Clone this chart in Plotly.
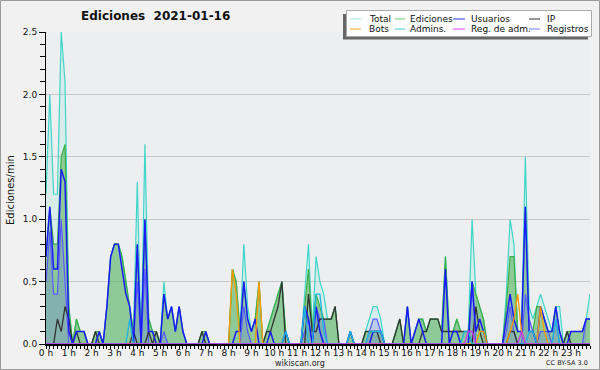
import plotly.graph_objects as go

# 10-minute slots, 144 per day (values in edits/min)
hour_labels = [f"{h} h" for h in range(24)]

total = [
 1.2, 2.0, 1.2, 1.2, 2.5, 2.1,   0.3, 0, 0.2, 0.1, 0.1, 0,
 0, 0.1, 0.1, 0, 0.3, 0.7,       0.8, 0.8, 0.7, 0.5, 0.3, 0.1,
 1.3, 0, 1.6, 0.2, 0.1, 0.1,     0, 0.5, 0.2, 0.3, 0.1, 0.3,
 0.1, 0, 0, 0, 0, 0.1,           0.1, 0, 0, 0, 0, 0,
 0, 0.6, 0.5, 0.1, 0.8, 0.3,     0.1, 0.2, 0.5, 0, 0.1, 0.2,
 0.3, 0.4, 0.5, 0.1, 0, 0,       0, 0, 0.4, 0.8, 0.1, 0.7,
 0.5, 0.4, 0.2, 0.2, 0.3, 0,     0, 0, 0.1, 0, 0, 0,
 0.1, 0.2, 0.3, 0.3, 0.2, 0,     0, 0, 0.1, 0.2, 0, 0.3,
 0, 0.1, 0.2, 0.2, 0.1, 0.2,     0.2, 0.2, 0.1, 0.7, 0.1, 0.1,
 0.2, 0.1, 0.1, 0.1, 1.0, 0.4,   0.3, 0.2, 0, 0, 0, 0,
 0, 0.4, 1.0, 0.8, 0.1, 0.1,     1.5, 0.3, 0.2, 0.3, 0.4, 0.3,
 0.2, 0.1, 0.3, 0.3, 0, 0.1,     0.1, 0.1, 0.1, 0.1, 0.2, 0.4,
]
ediciones = [
 0.7, 1.1, 0.8, 0.8, 1.5, 1.6,   0.3, 0, 0.2, 0.1, 0.1, 0,
 0, 0.1, 0.1, 0, 0.3, 0.7,       0.8, 0.8, 0.7, 0.5, 0.3, 0.1,
 0.8, 0, 1.0, 0.2, 0.1, 0.1,     0, 0.4, 0.2, 0.3, 0.1, 0.3,
 0.1, 0, 0, 0, 0, 0.1,           0.1, 0, 0, 0, 0, 0,
 0, 0.6, 0.5, 0.1, 0.5, 0.2,     0.1, 0.2, 0.5, 0, 0.1, 0.2,
 0.3, 0.4, 0.5, 0.1, 0, 0,       0, 0, 0.3, 0.6, 0.1, 0.4,
 0.3, 0.2, 0.2, 0.2, 0.3, 0,     0, 0, 0.1, 0, 0, 0,
 0.1, 0.1, 0.1, 0.1, 0.1, 0,     0, 0, 0.1, 0.2, 0, 0.3,
 0, 0.1, 0.2, 0.2, 0.1, 0.2,     0.2, 0.2, 0.1, 0.7, 0.1, 0.1,
 0.2, 0.1, 0.1, 0.1, 0.5, 0.4,   0.3, 0.2, 0, 0, 0, 0,
 0, 0.3, 0.7, 0.7, 0.1, 0.1,     1.1, 0.1, 0.1, 0.3, 0.3, 0.2,
 0.1, 0.1, 0.3, 0.1, 0, 0.1,     0.1, 0.1, 0.1, 0.1, 0.2, 0.2,
]
usuarios = [
 0.7, 1.1, 0.6, 0.6, 1.4, 1.3,   0.1, 0, 0.1, 0.1, 0.1, 0,
 0, 0, 0.1, 0, 0.3, 0.7,         0.8, 0.8, 0.6, 0.4, 0.3, 0,
 0.8, 0, 1.0, 0.1, 0.1, 0,       0, 0.4, 0.2, 0.3, 0.1, 0.3,
 0.1, 0, 0, 0, 0, 0,             0.1, 0, 0, 0, 0, 0,
 0, 0, 0.1, 0.1, 0.5, 0.2,       0.1, 0.2, 0, 0, 0, 0.1,
 0, 0, 0, 0.1, 0, 0,             0, 0, 0.3, 0.2, 0, 0.3,
 0.1, 0, 0, 0, 0, 0,             0, 0, 0.1, 0, 0, 0,
 0, 0, 0.1, 0.1, 0.1, 0,         0, 0, 0, 0, 0, 0.3,
 0, 0.1, 0.2, 0.1, 0, 0,         0, 0, 0, 0.6, 0, 0.1,
 0.1, 0, 0, 0, 0.5, 0.1,         0.2, 0.1, 0, 0, 0, 0,
 0, 0.2, 0.4, 0.2, 0.1, 0.1,     1.1, 0.1, 0.1, 0, 0.3, 0.2,
 0.1, 0.1, 0.3, 0.1, 0, 0,       0.1, 0.1, 0.1, 0.1, 0.2, 0.2,
]
ip = [
 0, 0, 0, 0.2, 0.1, 0.3,         0.2, 0, 0.1, 0, 0, 0,
 0, 0.1, 0, 0, 0, 0,             0, 0, 0, 0, 0, 0.1,
 0, 0, 0, 0.1, 0, 0.1,           0, 0, 0, 0, 0, 0,
 0, 0, 0, 0, 0, 0.1,             0, 0, 0, 0, 0, 0,
 0, 0, 0, 0, 0, 0,               0, 0, 0, 0, 0.1, 0.1,
 0.2, 0.3, 0.5, 0, 0, 0,         0, 0, 0, 0.4, 0.1, 0.1,
 0.2, 0.2, 0.2, 0.2, 0.3, 0,     0, 0, 0, 0, 0, 0,
 0.1, 0.1, 0.1, 0.1, 0, 0,       0, 0, 0.1, 0.2, 0, 0,
 0, 0, 0, 0.1, 0.1, 0.2,         0.2, 0.2, 0.1, 0.1, 0.1, 0.1,
 0.1, 0.1, 0.1, 0.1, 0, 0.3,     0.1, 0, 0, 0, 0, 0,
 0, 0, 0.1, 0.1, 0, 0,           0, 0, 0, 0, 0, 0,
 0, 0, 0, 0, 0, 0.1,             0, 0, 0, 0, 0, 0,
]
bots = [0] * 49 + [0.6, 0.4] + [0] * 5 + [0.5] + [0] * 57 + [0.1, 0.1] + [0] * 6 + [
 0.1, 0.2, 0.4, 0.1, 0, 0, 0, 0, 0.3, 0.1] + [0] * 13
admins = [0] * 22 + [0.2] + [0] * 40 + [0.1] + [0] * 4 + [
 0.3, 0, 0, 0.4, 0.4, 0.1] + [0] * 6 + [0.1] + [0] * 4 + [
 0.1, 0.1, 0.1, 0.1] + [0] * 21 + [0.1, 0.1] + [0] * 15 + [0.1, 0.1] + [0] * 5 + [0.2] + [0] * 9
reg_adm = [0] * 111 + [0.1, 0.1] + [0] * 12 + [0.1] + [0] * 18
registros = [
 0.5, 0.9, 0.4, 0.4, 1.0, 0.5] + [0] * 18 + [0.5, 0, 0.6] + [0] * 4 + [0.1] + [0] * 20 + [
 0.3, 0.1] + [0] * 14 + [0.1, 0.2, 0, 0.3, 0.2, 0.2] + [0] * 11 + [
 0.1, 0.2, 0.2, 0.1] + [0] * 23 + [0.5] + [0] * 8 + [
 0.1, 0.3, 0.1, 0, 0, 0.4, 0.2, 0.1, 0, 0.1, 0.1, 0.1, 0, 0.2] + [0] * 7 + [0.2]

n = len(total)
slots = list(range(n))

W, H = 600, 370
L, R, T, B = 46, 10, 32, 26
PW, PH = W - L - R, H - T - B


def px(x):
    return (x - L) / PW


def py(y):
    return (H - B - y) / PH


FONT = "DejaVu Sans"
fig = go.Figure()

fig.add_trace(go.Scatter(x=slots, y=total, mode="lines", name="Total",
                         line=dict(color="#3fd6c9", width=1.2),
                         fill="tozeroy", fillcolor="rgba(120,225,215,0.18)"))
fig.add_trace(go.Scatter(x=slots, y=ediciones, mode="lines", name="Ediciones",
                         line=dict(color="#3cb043", width=1.2),
                         fill="tozeroy", fillcolor="rgba(70,165,70,0.5)"))
fig.add_trace(go.Scatter(x=slots, y=registros, mode="lines", name="Registros",
                         line=dict(color="#5a5aff", width=1.2),
                         fill="tozeroy", fillcolor="rgba(90,90,255,0.22)"))
fig.add_trace(go.Scatter(x=slots, y=ip, mode="lines", name="IP",
                         line=dict(color="#333333", width=1.3)))
fig.add_trace(go.Scatter(x=slots, y=usuarios, mode="lines", name="Usuarios",
                         line=dict(color="#1a1aff", width=1.5)))
fig.add_trace(go.Scatter(x=slots, y=bots, mode="lines", name="Bots",
                         line=dict(color="#ff9900", width=1.3)))
fig.add_trace(go.Scatter(x=slots, y=admins, mode="lines", name="Admins.",
                         line=dict(color="#1fb6e0", width=1.3)))
fig.add_trace(go.Scatter(x=slots, y=reg_adm, mode="lines", name="Reg. de adm.",
                         line=dict(color="#cc33ff", width=1.3)))

shapes = []
annotations = []

# outer border
shapes.append(dict(type="rect", xref="paper", yref="paper",
                   x0=px(0.5), x1=px(W - 0.5), y0=py(H - 0.5), y1=py(0.5),
                   line=dict(color="#9a9a9a", width=1), layer="below"))

# legend box with shadow
shapes.append(dict(type="rect", xref="paper", yref="paper",
                   x0=px(343), x1=px(588), y0=py(39.5), y1=py(14),
                   fillcolor="#666666", line=dict(width=0)))
shapes.append(dict(type="rect", xref="paper", yref="paper",
                   x0=px(346.5), x1=px(591.5), y0=py(36.5), y1=py(10.5),
                   fillcolor="white", line=dict(color="#aaaaaa", width=1)))

legend_items = [
    ("Total", "#9fe6e2", 350, 361, 367, 19),
    ("Ediciones", "#66c466", 395, 405, 408, 19),
    ("Usuarios", "#3333ff", 453, 465, 469, 19),
    ("IP", "#333333", 529, 540, 545, 19),
    ("Bots", "#ffa030", 350, 361, 367, 29),
    ("Admins.", "#33ccdd", 395, 405, 408, 29),
    ("Reg. de adm.", "#dd44ff", 453, 465, 469, 29),
    ("Registros", "#7777ff", 529, 540, 545, 29),
]
for name, col, lx0, lx1, tx, ly in legend_items:
    shapes.append(dict(type="line", xref="paper", yref="paper",
                       x0=px(lx0), x1=px(lx1), y0=py(ly), y1=py(ly),
                       line=dict(color=col, width=1)))
    annotations.append(dict(text=name, xref="paper", yref="paper",
                            x=px(tx), y=py(ly), xanchor="left", yanchor="middle",
                            showarrow=False, font=dict(family=FONT, size=9, color="#111")))

annotations.append(dict(text="<b>Ediciones\u00a0\u00a02021-01-16</b>", xref="paper", yref="paper",
                        x=px(155), y=py(16), xanchor="center", yanchor="middle",
                        showarrow=False, font=dict(family=FONT, size=12, color="#111")))
annotations.append(dict(text="Ediciones/min", xref="paper", yref="paper",
                        x=px(10), y=py(190), xanchor="center", yanchor="middle",
                        textangle=-90, showarrow=False,
                        font=dict(family=FONT, size=10, color="#111")))
annotations.append(dict(text="wikiscan.org", xref="paper", yref="paper",
                        x=px(300), y=py(363), xanchor="center", yanchor="middle",
                        showarrow=False, font=dict(family=FONT, size=8, color="#222")))
annotations.append(dict(text="CC BY-SA 3.0", xref="paper", yref="paper",
                        x=px(590), y=py(363), xanchor="right", yanchor="middle",
                        showarrow=False, font=dict(family=FONT, size=6.5, color="#222")))

fig.update_layout(
    width=W, height=H,
    margin=dict(l=L, r=R, t=T, b=B, pad=0),
    paper_bgcolor="#f1f1f1",
    plot_bgcolor="#eceef0",
    showlegend=False,
    shapes=shapes,
    annotations=annotations,
    font=dict(family=FONT, size=9, color="#111"),
)
fig.update_xaxes(
    range=[0, n - 1],
    tickmode="array", tickvals=slots[::6], ticktext=hour_labels,
    ticks="outside", ticklen=3, tickcolor="black", tickwidth=1,
    minor=dict(tickvals=slots, ticks="outside", ticklen=3, tickcolor="black", tickwidth=1),
    ticklabelstandoff=-4,
    showgrid=False, zeroline=False,
    showline=True, linecolor="black", linewidth=2,
    tickfont=dict(family=FONT, size=9, color="#111"),
    fixedrange=True,
)
fig.update_yaxes(
    range=[0, 2.5],
    tickmode="array", tickvals=[0, 0.5, 1.0, 1.5, 2.0, 2.5],
    ticktext=["0.0", "0.5", "1.0", "1.5", "2.0", "2.5"],
    ticks="outside", ticklen=6, tickcolor="black",
    minor=dict(tickvals=[i / 10 for i in range(26)], ticks="outside", ticklen=5,
               tickcolor="black", showgrid=False),
    showgrid=True, gridcolor="#c8c8c8", gridwidth=1,
    zeroline=False, showline=True, linecolor="black", linewidth=1,
    tickfont=dict(family=FONT, size=9, color="#111"),
    fixedrange=True,
)

fig.write_html("out.html", config={"displayModeBar": False},
               post_script="document.body.style.margin='0';document.body.style.overflow='hidden';")
